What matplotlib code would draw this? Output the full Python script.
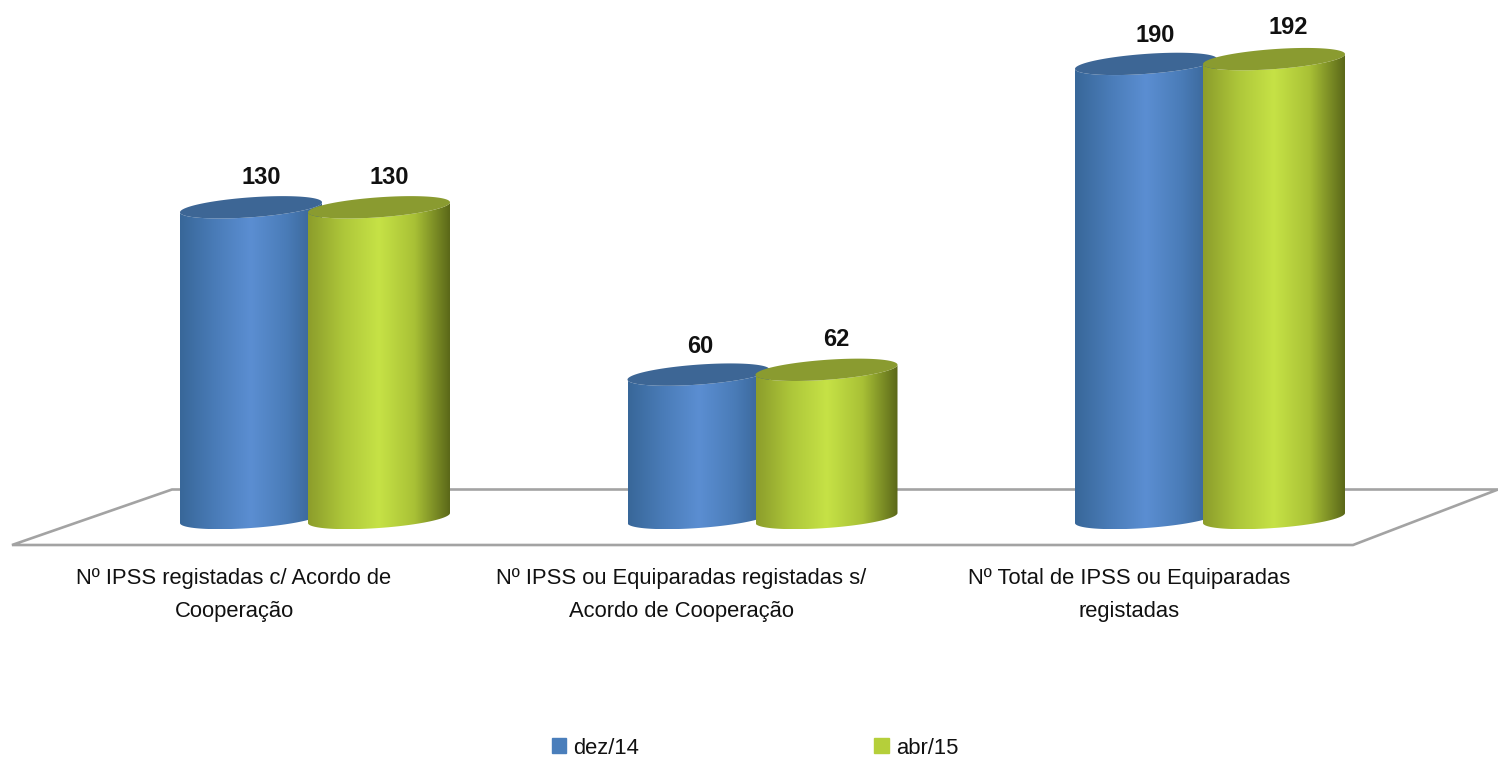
import numpy as np
import matplotlib.pyplot as plt
from matplotlib.colors import LinearSegmentedColormap
from matplotlib.patches import Patch, Polygon

plt.rcParams['font.family'] = ['Liberation Sans', 'DejaVu Sans']

# Valeurs
categories = ['Nº IPSS registadas c/ Acordo de\nCooperação',
              'Nº IPSS ou Equiparadas registadas s/\nAcordo de Cooperação',
              'Nº Total de IPSS ou Equiparadas\nregistadas']
series_names = ['dez/14', 'abr/15']
dez_14 = [130, 60, 190]
abr_15 = [130, 62, 192]

W, H = 1498, 760
x0_px, dx_px = 315, 447.5   # position px de la categorie 0, pas entre categories
y0_px, dy_px = 518, 2.39    # position px de la valeur 0, px par unite

fig = plt.figure(figsize=(W / 100, H / 100), dpi=100)
ax = fig.add_axes([0, 0, 1, 1])
ax.axis('off')
xlim = (-x0_px / dx_px, (W - x0_px) / dx_px)
ylim = ((y0_px - H) / dy_px, y0_px / dy_px)

# Plancher (repere pixels -> unites des axes)
def px(x, y):
    return (x / W, 1 - y / H)

floor = [px(172, 489.5), px(1498, 489.5), px(1353, 545), px(12, 545)]
ax.add_patch(Polygon(floor, closed=True, fill=False, edgecolor='#a3a3a3', lw=1.9,
                     transform=ax.transAxes, zorder=1))

bar_w = 142 / dx_px
minor = 10 / dy_px    # demi petit axe de l'ellipse
tilt = 5 / dy_px      # inclinaison de l'ellipse
t = np.linspace(0, 2 * np.pi, 200)


def ellipse(xc, yc, theta):
    return xc + bar_w / 2 * np.cos(theta), yc + tilt * np.cos(theta) + minor * np.sin(theta)


def cylinder(xc, value, stops, top_color, z):
    cmap = LinearSegmentedColormap.from_list('c', stops)
    tb = np.linspace(np.pi, 2 * np.pi, 100)
    xb, yb = ellipse(xc, 0, tb)
    # y vers le haut : moitie basse de l'ellipse = sin negatif
    xt, yt = ellipse(xc, value, tb[::-1])
    body = Polygon(np.column_stack([np.r_[xb, xt], np.r_[yb, yt]]), closed=True,
                   transform=ax.transData, fc='none', ec='none')
    ax.add_patch(body)
    im = ax.imshow(np.linspace(0, 1, 256).reshape(1, -1), cmap=cmap, aspect='auto',
                   extent=(xc - bar_w / 2, xc + bar_w / 2, yb.min(), value + minor),
                   zorder=z, interpolation='bilinear')
    im.set_clip_path(body)
    xe, ye = ellipse(xc, value, t)
    ax.fill(xe, ye, color=top_color, zorder=z + 0.1, lw=0)


blue_stops = ['#386799', '#4a7cb8', '#5b8ed2', '#4a7cb8', '#35608f']
green_stops = ['#8c9d2b', '#aec73a', '#c6e246', '#a9c136', '#5b6819']
offset = 64 / dx_px
# petits decalages des etiquettes (px)
nudge_blue = [(10, 29.5), (2, 28), (9, 28)]
nudge_green = [(10, 29.5), (10, 30), (14, 32)]
for i in range(len(categories)):
    cylinder(i - offset, dez_14[i], blue_stops, '#3d6695', 3)
    cylinder(i + offset, abr_15[i], green_stops, '#8a9b30', 4)
    ax.text(i - offset + nudge_blue[i][0] / dx_px, dez_14[i] + nudge_blue[i][1] / dy_px, str(dez_14[i]),
            ha='center', va='center', fontsize=17, fontweight='bold', color='#111111', zorder=6)
    ax.text(i + offset + nudge_green[i][0] / dx_px, abr_15[i] + nudge_green[i][1] / dy_px, str(abr_15[i]),
            ha='center', va='center', fontsize=17, fontweight='bold', color='#111111', zorder=6)
    ax.text(i - 81 / dx_px, (y0_px - 595) / dy_px, categories[i], ha='center', va='center',
            fontsize=15.8, linespacing=1.7, color='#111111')

ax.set_xlim(xlim)
ax.set_ylim(ylim)

handles = [Patch(color='#4a7ebb'), Patch(color='#b5cf3a')]
fig.legend(handles, series_names, ncol=2, loc='center', bbox_to_anchor=(755 / W, 1 - 748 / H),
           frameon=False, fontsize=15.8, handlelength=0.68, handleheight=0.68, handletextpad=0.32,
           columnspacing=10.7, labelcolor='#111111')

fig.savefig('out.png', dpi=100)
